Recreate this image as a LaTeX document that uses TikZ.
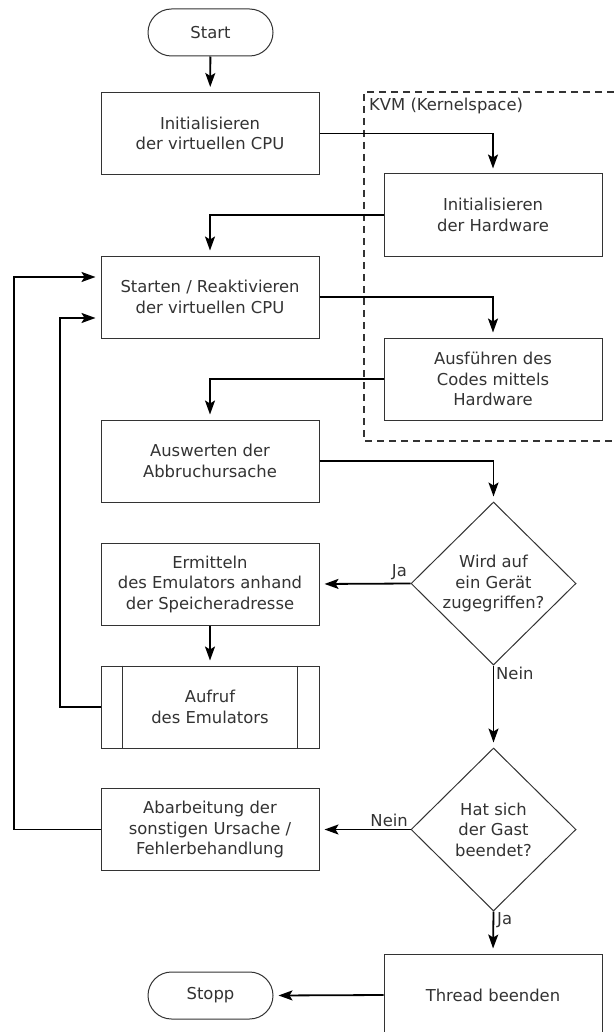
\documentclass[tikz,border=0pt]{standalone}
\usepackage{fontspec}
\setmainfont{DejaVu Sans}
\usetikzlibrary{shapes.geometric,shapes.misc,arrows.meta}
\definecolor{ink}{gray}{0.2}
\tikzset{
  base/.style={draw=ink, line width=1pt, text=ink, font=\fontsize{16.4}{20.5}\selectfont, align=center, inner sep=0pt},
  procbox/.style={base, rectangle, minimum width=218pt, minimum height=82pt},
  termbox/.style={base, rounded rectangle, minimum width=125pt, minimum height=47pt},
  decbox/.style={base, diamond, minimum width=165pt, minimum height=163pt},
  innerline/.style={draw=ink, line width=1pt},
  flow/.style={draw=black, line width=1.8pt, shorten >=5pt, -{Stealth[length=14pt,width=10pt,inset=3pt]}},
  lbl/.style={text=ink, font=\fontsize{16.4}{20}\selectfont, inner sep=0pt},
}
\begin{document}
\begin{tikzpicture}[x=1pt,y=-1pt]
\useasboundingbox[fill=white] (0,0) rectangle (613,1032);

% kernel space region
\draw[ink, line width=2pt, dash pattern=on 7pt off 5pt]
  (614,92) -- (364,92) -- (364,441) -- (614,441);
\node[lbl, anchor=west] (kvm) at (369,106) {KVM (Kernelspace)};

% nodes
\node[termbox] (start) at (210.5,32.5) {Start};
\node[procbox] (initcpu) at (210,133.5) {Initialisieren\\der virtuellen CPU};
\node[procbox] (inithw) at (493,215) {Initialisieren\\der Hardware};
\node[procbox] (run) at (210,297) {Starten / Reaktivieren\\der virtuellen CPU};
\node[procbox] (exec) at (493,379) {Ausführen des\\Codes mittels\\Hardware};
\node[procbox] (eval) at (210,461) {Auswerten der\\Abbruchursache};
\node[decbox] (dev) at (493.5,583.5) {Wird auf\\ein Gerät\\zugegriffen?};
\node[procbox] (find) at (210,584) {Ermitteln\\des Emulators anhand\\der Speicheradresse};
\node[procbox] (call) at (210,707) {Aufruf\\des Emulators};
\draw[innerline] ([xshift=22pt]call.north west) -- ([xshift=22pt]call.south west)
                 ([xshift=-22pt]call.north east) -- ([xshift=-22pt]call.south east);
\node[decbox] (quit) at (493.5,829.5) {Hat sich\\der Gast\\beendet?};
\node[procbox] (other) at (210,829.5) {Abarbeitung der\\sonstigen Ursache /\\Fehlerbehandlung};
\node[procbox] (thread) at (493,995) {Thread beenden};
\node[termbox] (stop) at (210.5,995.5) {Stopp};

% helper points for the loop-back lines
\coordinate (loopA) at (60,318);
\coordinate (loopB) at (14,277);

% connectors
\draw[flow] (start) -- (initcpu);
\draw[flow] (initcpu.east) -| (inithw.north);
\draw[flow] (inithw.west) -| (run.north);
\draw[flow] (run.east) -| (exec.north);
\draw[flow] (exec.west) -| (eval.north);
\draw[flow] (eval.east) -| (dev.north);
\draw[flow] (dev.west) -- (find.east);
\draw[flow] (find) -- (call);
\draw[flow] (call.west) -| (loopA) -- (run.west |- loopA);
\draw[flow] (dev.south) -- (quit.north);
\draw[flow] (quit.west) -- (other.east);
\draw[flow] (other.west) -| (loopB) -- (run.west |- loopB);
\draw[flow] (quit.south) -- (thread.north);
\draw[flow] (thread.west) -- (stop.east);

% branch labels
\node[lbl, anchor=south east] (ja1) at (407,580) {Ja};
\node[lbl, anchor=north west] (nein1) at (496,667) {Nein};
\node[lbl, anchor=south east] (nein2) at (408,827) {Nein};
\node[lbl, anchor=north west] (ja2) at (497,912) {Ja};
\end{tikzpicture}
\end{document}
